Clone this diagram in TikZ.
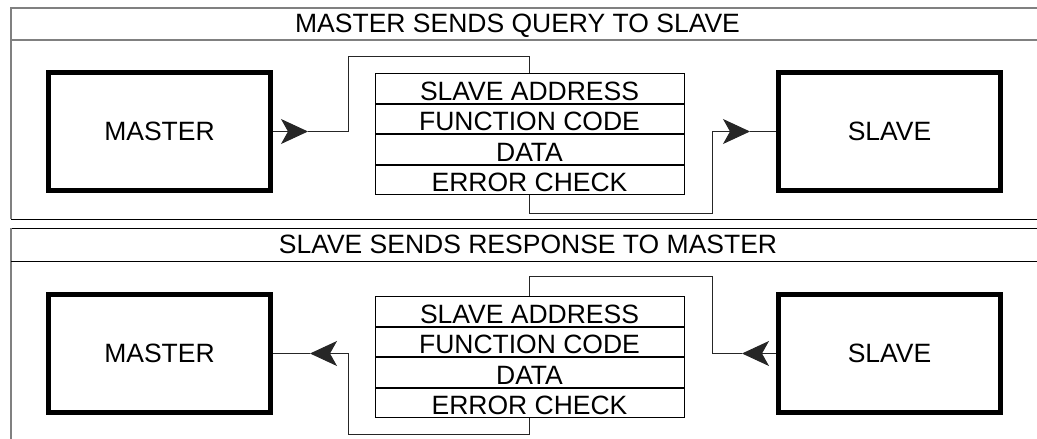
\documentclass[tikz,border=0pt]{standalone}
\usepackage{fontspec}
\setmainfont{Liberation Sans}
\usepackage{tikz}
\usetikzlibrary{arrows.meta,positioning}

\begin{document}
\begin{tikzpicture}[x=1pt, y=-1pt,
		every node/.style={font=\fontsize{26.5}{30}\selectfont},
		unit/.style={rectangle, draw, line width=5pt, minimum width=222pt, minimum height=118pt, align=center},
		field/.style={rectangle, draw, line width=1pt, minimum width=309pt, inner sep=0pt, text height=26.5pt, text depth=3pt},
		title/.style={anchor=base, inner sep=0pt},
		panel/.style={draw=black!50, line width=2pt},
		rule/.style={draw=black, line width=1pt},
		wire/.style={draw=black!85, line width=1pt},
		arrow/.style={wire, -{Stealth[length=27pt, width=25pt, inset=7pt]}}
	]
		\useasboundingbox (0,0) rectangle (1037,439);

		% Panels
		\draw[panel] (1037,8) -- (11,8) -- (11,219);
		\draw[panel] (11,40) -- (1037,40);
		\draw[rule] (11,219) -- (1037,219);
		\draw[rule] (1037,228) -- (11,228);
		\draw[panel, line width=1.5pt] (11,228) -- (11,439);
		\draw[rule] (11,261) -- (1037,261);
		\node[title] (qtitle) at (517.5,32) {MASTER SENDS QUERY TO SLAVE};
		\node[title] (rtitle) at (528,253) {SLAVE SENDS RESPONSE TO MASTER};

		% Query
		\node[unit] (qmaster) at (159.5,131.5) {MASTER};
		\node[unit] (qslave) at (889.5,131.5) {SLAVE};
		\node[field, anchor=north] (qaddr) at (529.5,73) {SLAVE ADDRESS};
		\node[field, below=0pt of qaddr] (qfunc) {FUNCTION CODE};
		\node[field, below=0pt of qfunc] (qdata) {DATA};
		\node[field, below=0pt of qdata] (qerr) {ERROR CHECK};
		\coordinate (qout) at (308,131.5);
		\coordinate (qin) at (750,131.5);

		% Response
		\node[unit] (rmaster) at (159.5,353.5) {MASTER};
		\node[unit] (rslave) at (889.5,353.5) {SLAVE};
		\node[field, anchor=north] (raddr) at (529.5,296) {SLAVE ADDRESS};
		\node[field, below=0pt of raddr] (rfunc) {FUNCTION CODE};
		\node[field, below=0pt of rfunc] (rdata) {DATA};
		\node[field, below=0pt of rdata] (rerr) {ERROR CHECK};
		\coordinate (rin) at (742,353.5);
		\coordinate (rout) at (310,353.5);

		% Arrows
		\draw[arrow] (qmaster.east) -- (qout);
		\draw[wire] (qout) -- ++(40,0) |- ([yshift=17pt]qaddr.north) -- (qaddr.north);
		\draw[arrow] (qerr.south) -- ++(0,18) -| ([xshift=-38pt]qin) -- (qin);
		\draw[wire] (qin) -- (qslave.west);

		\draw[arrow] (rslave.west) -- (rin);
		\draw[wire] (rin) -- ++(-30,0) |- ([yshift=20pt]raddr.north) -- (raddr.north);
		\draw[arrow] (rerr.south) -- ++(0,16) -| ([xshift=38pt]rout) -- (rout);
		\draw[wire] (rout) -- (rmaster.east);
	\end{tikzpicture}
\end{document}
